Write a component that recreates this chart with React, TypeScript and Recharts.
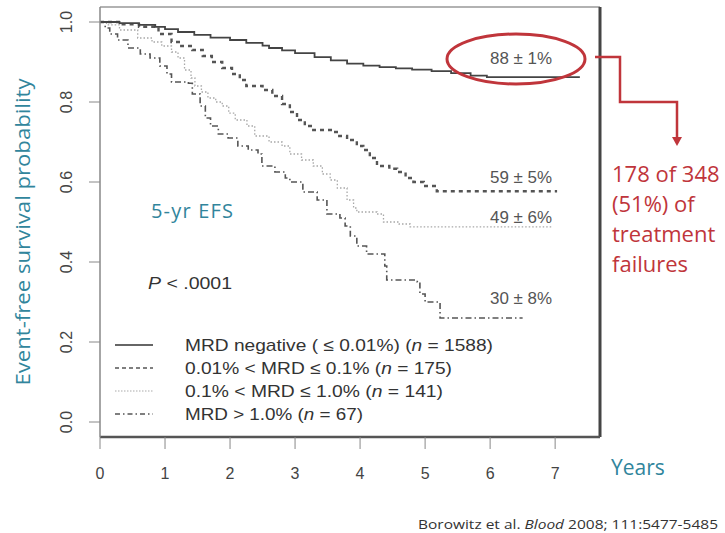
import React from "react";
import { LineChart, Line, XAxis, YAxis, ReferenceLine } from "recharts";

// Kaplan-Meier event-free survival by day-29 MRD level: [years, survival]
const mrdNegative: [number, number][] = [
  [0, 1.0], [0.3, 0.997], [0.6, 0.993], [0.85, 0.988], [1.0, 0.982], [1.2, 0.975],
  [1.45, 0.968], [1.7, 0.961], [2.0, 0.955], [2.25, 0.948], [2.5, 0.941], [2.6, 0.935],
  [2.8, 0.929], [3.0, 0.922], [3.3, 0.912], [3.55, 0.904], [3.8, 0.896], [4.05, 0.891],
  [4.3, 0.887], [4.55, 0.884], [4.8, 0.881], [5.1, 0.877], [5.4, 0.872], [5.7, 0.866],
  [5.95, 0.862], [7.38, 0.862],
];
const mrdLow: [number, number][] = [
  [0, 1.0], [0.35, 0.994], [0.6, 0.988], [0.9, 0.97], [1.1, 0.95], [1.25, 0.94],
  [1.42, 0.93], [1.58, 0.915], [1.72, 0.9], [1.88, 0.885], [2.03, 0.87], [2.15, 0.855],
  [2.25, 0.84], [2.5, 0.83], [2.65, 0.815], [2.8, 0.795], [2.92, 0.775], [3.03, 0.755],
  [3.15, 0.74], [3.28, 0.73], [3.55, 0.725], [3.68, 0.715], [3.8, 0.705], [3.95, 0.69],
  [4.05, 0.68], [4.15, 0.66], [4.26, 0.64], [4.45, 0.633], [4.57, 0.625], [4.7, 0.61],
  [4.82, 0.6], [4.98, 0.59], [5.18, 0.577], [7.03, 0.577],
];
const mrdMid: [number, number][] = [
  [0, 1.0], [0.1, 0.993], [0.3, 0.98], [0.58, 0.96], [0.8, 0.95], [0.95, 0.94],
  [1.1, 0.925], [1.2, 0.91], [1.3, 0.88], [1.4, 0.86], [1.46, 0.84], [1.56, 0.825],
  [1.66, 0.81], [1.78, 0.8], [1.88, 0.79], [1.98, 0.772], [2.08, 0.755], [2.26, 0.74],
  [2.38, 0.715], [2.6, 0.7], [2.8, 0.69], [2.92, 0.67], [3.1, 0.655], [3.28, 0.64],
  [3.42, 0.62], [3.54, 0.605], [3.65, 0.585], [3.8, 0.555], [3.9, 0.535], [3.95, 0.525],
  [4.26, 0.52], [4.36, 0.5], [4.6, 0.495], [4.77, 0.488], [6.97, 0.488],
];
const mrdHigh: [number, number][] = [
  [0, 1.0], [0.08, 0.985], [0.15, 0.97], [0.27, 0.955], [0.43, 0.935], [0.62, 0.92],
  [0.77, 0.91], [0.92, 0.89], [1.03, 0.87], [1.1, 0.85], [1.36, 0.847], [1.42, 0.82],
  [1.54, 0.79], [1.62, 0.76], [1.7, 0.74], [1.82, 0.72], [1.97, 0.71], [2.12, 0.69],
  [2.28, 0.68], [2.43, 0.67], [2.49, 0.64], [2.69, 0.625], [2.85, 0.61], [2.92, 0.6],
  [3.12, 0.575], [3.34, 0.555], [3.49, 0.52], [3.69, 0.51], [3.77, 0.49], [3.85, 0.465],
  [3.95, 0.44], [4.1, 0.42], [4.38, 0.39], [4.41, 0.355], [4.88, 0.35], [4.92, 0.32],
  [5.0, 0.3], [5.23, 0.26], [6.5, 0.26],
];

const xTicks = [0, 1, 2, 3, 4, 5, 6, 7];
const yTicks = [0, 0.2, 0.4, 0.6, 0.8, 1.0];
const fiveYearLabels = ["88 \u00b1 1%", "59 \u00b1 5%", "49 \u00b1 6%", "30 \u00b1 8%"];

const X_MAX = 7.69;
const Y_MIN = -0.0375;
const Y_MAX = 1.0375;

const toRows = (pts: [number, number][]) => pts.map(([t, s]) => ({ t, s }));

const TEAL = "#31859c";
const RED = "#c0353b";
const SANS = "'Liberation Sans', Arial, sans-serif";
const OFFICE = "'Open Sans', 'Noto Sans', sans-serif";

const YTick = ({ y, payload }: any) => (
  <text
    x={72}
    y={y}
    transform={`rotate(-90, 72, ${y})`}
    textAnchor="middle"
    fontSize={16}
    fontFamily={SANS}
    fill="#444"
  >
    {Number(payload.value).toFixed(1)}
  </text>
);

const legendRows = [
  { dash: undefined, color: "#333", w: 1.6, len: 308, pre: "MRD negative ( \u2264 0.01%) (", n: " = 1588)" },
  { dash: "4 3", color: "#555", w: 1.6, len: 267, pre: "0.01% < MRD  \u2264 0.1% (", n: " = 175)" },
  { dash: "1.5 1.5", color: "#aaa", w: 1.2, len: 258, pre: "0.1% < MRD  \u2264 1.0% (", n: " = 141)" },
  { dash: "5 3 1.5 3", color: "#555", w: 1.3, len: 178, pre: "MRD > 1.0% (", n: " = 67)" },
];

export default function App() {
  return (
    <div style={{ position: "absolute", left: 0, top: 0, width: 725, height: 533, background: "#fff" }}>
      <LineChart width={725} height={533} margin={{ top: 7, right: 125, bottom: 66, left: 40 }}>
        <XAxis
          type="number"
          dataKey="t"
          domain={[0, X_MAX]}
          ticks={xTicks}
          allowDataOverflow
          height={30}
          tickSize={12}
          tickMargin={19}
          axisLine={{ stroke: "#555", strokeWidth: 2.5 }}
          tickLine={{ stroke: "#888" }}
          tick={{ fill: "#444", fontSize: 16, fontFamily: SANS }}
        />
        <YAxis
          type="number"
          dataKey="s"
          domain={[Y_MIN, Y_MAX]}
          ticks={yTicks}
          allowDataOverflow
          width={60}
          tickSize={11}
          axisLine={{ stroke: "#888", strokeWidth: 1.5 }}
          tickLine={{ stroke: "#888" }}
          tick={<YTick />}
        />
        <ReferenceLine y={Y_MAX} stroke="#999" strokeWidth={1.5} ifOverflow="visible" />
        <ReferenceLine x={X_MAX} stroke="#444" strokeWidth={3} ifOverflow="visible" />
        <Line data={toRows(mrdMid)} dataKey="s" type="stepAfter" stroke="#a8a8a8" strokeWidth={1.3}
          strokeDasharray="1.5 2" dot={false} isAnimationActive={false} />
        <Line data={toRows(mrdHigh)} dataKey="s" type="stepAfter" stroke="#555" strokeWidth={1.6}
          strokeDasharray="6 3 1.5 3" dot={false} isAnimationActive={false} />
        <Line data={toRows(mrdLow)} dataKey="s" type="stepAfter" stroke="#555" strokeWidth={2.4}
          strokeDasharray="4 4" dot={false} isAnimationActive={false} />
        <Line data={toRows(mrdNegative)} dataKey="s" type="stepAfter" stroke="#444" strokeWidth={1.8}
          dot={false} isAnimationActive={false} />
      </LineChart>

      <svg width={725} height={533} style={{ position: "absolute", left: 0, top: 0, pointerEvents: "none" }}>
        <text
          x={30}
          y={232}
          transform="rotate(-90, 30, 232)"
          textAnchor="middle"
          fontSize={20}
          fontFamily={OFFICE}
          fill={TEAL}
          textLength={307}
          lengthAdjust="spacingAndGlyphs"
        >
          Event-free survival probability
        </text>

        <text x={151} y={218} fontSize={20} fontFamily={OFFICE} fill={TEAL} textLength={82}>5-yr EFS</text>

        <text x={148} y={289} fontSize={17} fontFamily={SANS} fill="#333" textLength={84}
          lengthAdjust="spacingAndGlyphs">
          <tspan fontStyle="italic">P</tspan>
          <tspan> &lt;  .0001</tspan>
        </text>

        {legendRows.map((r, i) => {
          const y = 345 + i * 23;
          return (
            <g key={i}>
              <line x1={115} x2={153} y1={y} y2={y} stroke={r.color} strokeWidth={r.w} strokeDasharray={r.dash} />
              <text x={185} y={y + 6} fontSize={17} fontFamily={SANS} fill="#333" textLength={r.len}
                lengthAdjust="spacingAndGlyphs">
                {r.pre}
                <tspan fontStyle="italic">n</tspan>
                {r.n}
              </text>
            </g>
          );
        })}

        {fiveYearLabels.map((lab, i) => (
          <text key={lab} x={552} y={[64, 183, 223, 304][i]} textAnchor="end" fontSize={16}
            fontFamily={SANS} fill="#555" textLength={62} lengthAdjust="spacingAndGlyphs">
            {lab}
          </text>
        ))}

        <ellipse cx={516} cy={59} rx={69} ry={25} fill="none" stroke={RED} strokeWidth={3} />
        <polyline points="595,57 620,57 620,102 677,102 677,138" fill="none" stroke={RED} strokeWidth={2.5} />
        <polygon points="672,137 682,137 677,146" fill={RED} />

        <g fontSize={22} fontFamily={OFFICE} fill={RED}>
          <text x={612} y={182}>178 of 348</text>
          <text x={612} y={212}>(51%) of</text>
          <text x={612} y={242}>treatment</text>
          <text x={612} y={272}>failures</text>
        </g>

        <text x={611} y={475} fontSize={21} fontFamily={OFFICE} fill={TEAL}>Years</text>

        <text x={418} y={529} fontSize={13} fontFamily={OFFICE} fill="#333" textLength={300}
          lengthAdjust="spacingAndGlyphs">
          Borowitz et al. <tspan fontStyle="italic">Blood</tspan> 2008; 111:5477-5485
        </text>
      </svg>
    </div>
  );
}
